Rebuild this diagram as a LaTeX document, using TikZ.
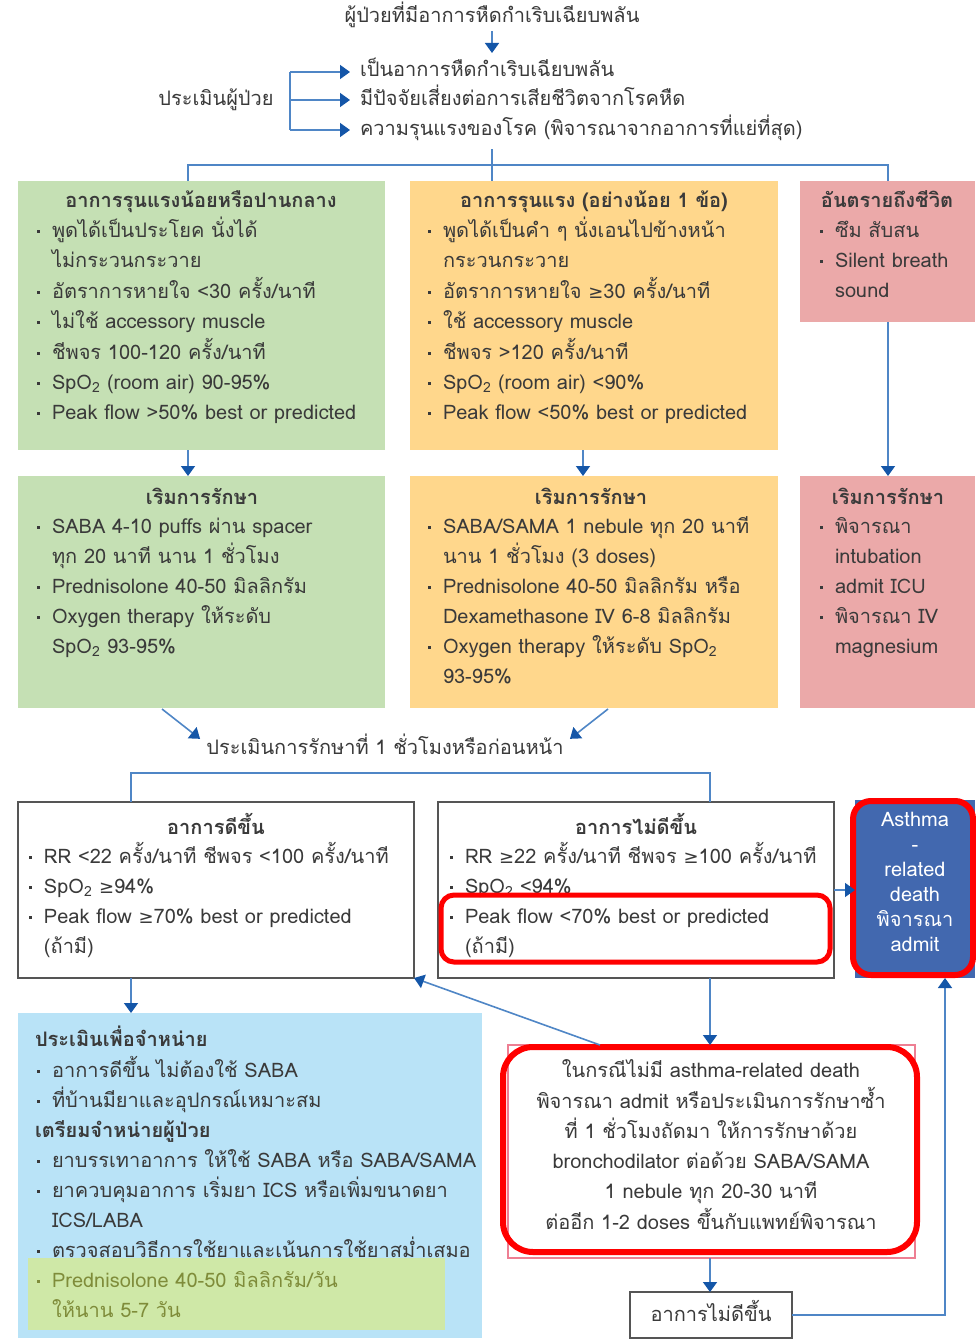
\documentclass[tikz,border=0pt]{standalone}
\usepackage{fontspec}
\setmainfont[Script=Thai]{Loma}
\newfontfamily\symf{DejaVu Sans}
\usetikzlibrary{arrows.meta,calc}

\definecolor{ink}{HTML}{3A3A3A}
\definecolor{sevgreen}{HTML}{C5E0B4}
\definecolor{sevyellow}{HTML}{FFD78C}
\definecolor{sevpink}{HTML}{EBA9A9}
\definecolor{skyfill}{HTML}{B9E3F7}
\definecolor{hlgreen}{HTML}{CFE8A7}
\definecolor{olivetext}{HTML}{7F8C3A}
\definecolor{deathblue}{HTML}{4268AF}
\definecolor{lineblue}{HTML}{4F86C6}
\definecolor{headblue}{HTML}{1456A8}
\definecolor{framegray}{HTML}{555555}
\definecolor{markred}{HTML}{FF0000}
\definecolor{thinpink}{HTML}{EE7F93}

\newcommand\bodyfont{\fontsize{20}{30}\selectfont}
\newcommand\gte{{\symf\fontsize{18}{30}\selectfont ≥}}
\newcommand\bitem{\strut\makebox[17pt][l]{\hspace{2pt}\rule[4.5pt]{2.8pt}{2.8pt}}}
\newcommand\bcont{\strut\hspace*{17pt}}
\newcommand\sptwo{SpO\textsubscript{2}}

\tikzset{
  panel/.style={draw=none, inner sep=0, outer sep=0, anchor=north west},
  framed/.style={panel, draw=framegray, line width=1.3pt, fill=white},
  txt/.style={inner sep=0, outer sep=0, align=left, anchor=north west, font=\bodyfont, text=ink},
  ctxt/.style={inner sep=0, outer sep=0, align=center, anchor=north, font=\bodyfont, text=ink},
  hdr/.style={inner sep=0, outer sep=0, anchor=base, font=\bodyfont\bfseries, text=ink},
  lbl/.style={inner sep=0, outer sep=0, font=\bodyfont, text=ink},
  link/.style={draw=lineblue, line width=1.6pt},
  arr/.style={link, -{Triangle[width=14pt,length=10pt,color=headblue]}},
  redmark/.style={draw=markred, line width=5pt},
}

\begin{document}
\begin{tikzpicture}[x=1pt,y=-1pt]
\useasboundingbox[fill=white] (0,0) rectangle (975,1340);

% --- assessment header ---
\node[lbl, anchor=base] (title) at (492,23) {ผู้ป่วยที่มีอาการหืดกำเริบเฉียบพลัน};
\coordinate (titletip) at (492,53);
\draw[arr] ([yshift=-3pt]title.south) -- (titletip);

\node[lbl, anchor=base] (assess) at (216,106) {ประเมินผู้ป่วย};
\node[lbl, anchor=base west] (c1) at (360,77) {เป็นอาการหืดกำเริบเฉียบพลัน};
\node[lbl, anchor=base west] (c2) at (360,106) {มีปัจจัยเสี่ยงต่อการเสียชีวิตจากโรคหืด};
\node[lbl, anchor=base west] (c3) at (360,136) {ความรุนแรงของโรค (พิจารณาจากอาการที่แย่ที่สุด)};
\coordinate (brtop) at (290,72);
\coordinate (brmid) at (290,100);
\coordinate (brbot) at (290,130);
\draw[link] (brtop) -- (brbot);
\draw[arr, shorten >=10pt] (brtop) -- (brtop -| c1.west);
\draw[arr, shorten >=10pt] (brmid) -- (brmid -| c2.west);
\draw[arr, shorten >=10pt] (brbot) -- (brbot -| c3.west);

% --- severity panels ---
\node[panel, fill=sevgreen, minimum width=367, minimum height=269] (sevA) at (18,181) {};
\node[panel, fill=sevyellow, minimum width=368, minimum height=269] (sevB) at (410,181) {};
\node[panel, fill=sevpink, minimum width=175, minimum height=141] (sevC) at (800,181) {};

\coordinate (split) at (492,165);
\coordinate (brL) at (188,165);
\coordinate (brR) at (888,165);
\draw[link] ([yshift=-8pt]c3.south -| split) -- (split |- sevB.north);
\draw[link] (brL |- sevA.north) -- (brL) -- (brR) -- (brR |- sevC.north);

\node[hdr] (sevAh) at (201,208) {อาการรุนแรงน้อยหรือปานกลาง};
\node[txt] (sevAt) at (35,216) {%
\bitem พูดได้เป็นประโยค นั่งได้\\
\bcont ไม่กระวนกระวาย\\
\bitem อัตราการหายใจ <30 ครั้ง/นาที\\
\bitem ไม่ใช้ accessory muscle\\
\bitem ชีพจร 100-120 ครั้ง/นาที\\
\bitem \sptwo{} (room air) 90-95\%\\
\bitem Peak flow >50\% best or predicted};

\node[hdr] (sevBh) at (594,208) {อาการรุนแรง (อย่างน้อย 1 ข้อ)};
\node[txt] (sevBt) at (426,216) {%
\bitem พูดได้เป็นคำ ๆ นั่งเอนไปข้างหน้า\\
\bcont กระวนกระวาย\\
\bitem อัตราการหายใจ \gte30 ครั้ง/นาที\\
\bitem ใช้ accessory muscle\\
\bitem ชีพจร >120 ครั้ง/นาที\\
\bitem \sptwo{} (room air) <90\%\\
\bitem Peak flow <50\% best or predicted};

\node[hdr] (sevCh) at (887,208) {อันตรายถึงชีวิต};
\node[txt] (sevCt) at (818,216) {%
\bitem ซึม สับสน\\
\bitem Silent breath\\
\bcont sound};

% --- initial treatment panels ---
\node[panel, fill=sevgreen, minimum width=367, minimum height=232] (trA) at (18,476) {};
\node[panel, fill=sevyellow, minimum width=368, minimum height=232] (trB) at (410,476) {};
\node[panel, fill=sevpink, minimum width=175, minimum height=232] (trC) at (800,476) {};

\coordinate (yx) at (583,300);
\draw[arr] (brL |- sevA.south) -- (brL |- trA.north);
\draw[arr] (yx |- sevB.south) -- (yx |- trB.north);
\draw[arr] (brR |- sevC.south) -- (brR |- trC.north);

\node[hdr] (trAh) at (202,504) {เริมการรักษา};
\node[txt] (trAt) at (35,512) {%
\bitem SABA 4-10 puffs ผ่าน spacer\\
\bcont ทุก 20 นาที นาน 1 ชั่วโมง\\
\bitem Prednisolone 40-50 มิลลิกรัม\\
\bitem Oxygen therapy ให้ระดับ\\
\bcont \sptwo{} 93-95\%};

\node[hdr] (trBh) at (591,504) {เริมการรักษา};
\node[txt] (trBt) at (426,512) {%
\bitem SABA/SAMA 1 nebule ทุก 20 นาที\\
\bcont นาน 1 ชั่วโมง (3 doses)\\
\bitem Prednisolone 40-50 มิลลิกรัม หรือ\\
\bcont Dexamethasone IV 6-8 มิลลิกรัม\\
\bitem Oxygen therapy ให้ระดับ \sptwo\\
\bcont 93-95\%};

\node[hdr] (trCh) at (888,504) {เริมการรักษา};
\node[txt] (trCt) at (818,512) {%
\bitem พิจารณา\\
\bcont intubation\\
\bitem admit ICU\\
\bitem พิจารณา IV\\
\bcont magnesium};

% --- reassessment ---
\node[lbl, anchor=base] (eval) at (385,754) {ประเมินการรักษาที่ 1 ชั่วโมงหรือก่อนหน้า};
\coordinate (dAs) at (162,709);
\coordinate (dBs) at (608,709);
\draw[arr, shorten >=8pt] (dAs) -- (eval.west);
\draw[arr, shorten >=8pt] (dBs) -- (eval.east);

\node[framed, minimum width=396, minimum height=176] (okbox) at (18,802) {};
\node[framed, minimum width=396, minimum height=176] (nobox) at (438,802) {};
\node[panel, fill=deathblue, minimum width=120, minimum height=178] (death) at (855,800) {};

\coordinate (b2L) at (131,773);
\coordinate (b2R) at (710,773);
\draw[link] (b2L |- okbox.north) -- (b2L) -- (b2R) -- (b2R |- nobox.north);

\node[hdr] (okh) at (216,834) {อาการดีขึ้น};
\node[txt] (okt) at (27,842) {%
\bitem RR <22 ครั้ง/นาที ชีพจร <100 ครั้ง/นาที\\
\bitem \sptwo{} \gte94\%\\
\bitem Peak flow \gte70\% best or predicted\\
\bcont (ถ้ามี)};

\node[hdr] (noh) at (636,834) {อาการไม่ดีขึ้น};
\node[txt] (not) at (448,842) {%
\bitem RR \gte22 ครั้ง/นาที ชีพจร \gte100 ครั้ง/นาที\\
\bitem \sptwo{} <94\%\\
\bitem Peak flow <70\% best or predicted\\
\bcont (ถ้ามี)};
\draw[redmark, rounded corners=13pt] (441,895) rectangle (830,962);

\node[inner sep=0, outer sep=0, align=center, anchor=north, text=white,
      font=\fontsize{20}{25}\selectfont] (deatht) at (915,809) {%
\strut Asthma\\ \strut -\\ \strut related\\ \strut death\\ \strut พิจารณา\\ \strut admit};
\draw[redmark, line width=6pt, rounded corners=18pt] (853,801) rectangle (973,975);

\draw[arr] (nobox.east) -- (nobox.east -| death.west);

% --- discharge and repeat-treatment ---
\node[panel, fill=skyfill, minimum width=464, minimum height=325] (disch) at (18,1013) {};
\fill[hlgreen] (28,1258) rectangle (445,1330);
\node[txt] (discht) at (35,1025) {%
\strut\textbf{ประเมินเพื่อจำหน่าย}\\
\bitem อาการดีขึ้น ไม่ต้องใช้ SABA\\
\bitem ที่บ้านมียาและอุปกรณ์เหมาะสม\\
\strut\textbf{เตรียมจำหน่ายผู้ป่วย}\\
\bitem ยาบรรเทาอาการ ให้ใช้ SABA หรือ SABA/SAMA\\
\bitem ยาควบคุมอาการ เริ่มยา ICS หรือเพิ่มขนาดยา\\
\bcont ICS/LABA\\
\bitem ตรวจสอบวิธีการใช้ยาและเน้นการใช้ยาสม่ำเสมอ\\
{\color{olivetext}\bitem Prednisolone 40-50 มิลลิกรัม/วัน}\\
{\color{olivetext}\bcont ให้นาน 5-7 วัน}};

\node[panel, draw=thinpink, line width=1.3pt, fill=white, minimum width=407, minimum height=213] (redo) at (508,1045) {};
\node[ctxt] (redot) at (711,1056) {%
\strut ในกรณีไม่มี asthma-related death\\
\strut พิจารณา admit หรือประเมินการรักษาซ้ำ\\
\strut ที่ 1 ชั่วโมงถัดมา ให้การรักษาด้วย\\
\strut bronchodilator ต่อด้วย SABA/SAMA\\
\strut 1 nebule ทุก 20-30 นาที\\
\strut ต่ออีก 1-2 doses ขึ้นกับแพทย์พิจารณา};
\draw[redmark, line width=6pt, rounded corners=30pt] (503,1047) rectangle (917,1252);

\node[framed, minimum width=162, minimum height=46] (again) at (630,1292) {};
\node[lbl, anchor=base] (againt) at (711,1321) {อาการไม่ดีขึ้น};

\draw[arr] (b2L |- okbox.south) -- (b2L |- disch.north);
\draw[arr] (b2R |- nobox.south) -- (b2R |- redo.north);
\coordinate (rd) at ($(redo.north west)!0.226!(redo.north east)$);
\draw[arr] (rd) -- (okbox.south east);
\draw[arr] (b2R |- redo.south) -- (b2R |- again.north);
\coordinate (bx) at (945,1100);
\draw[arr] (again.east) -- (again.east -| bx) -- (bx |- death.south);
\end{tikzpicture}
\end{document}
